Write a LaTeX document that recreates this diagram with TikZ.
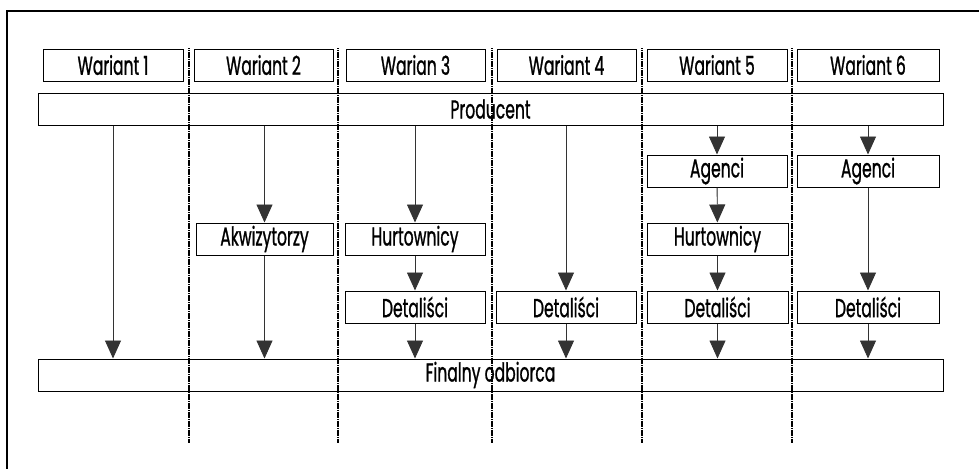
\documentclass[tikz,border=0pt]{standalone}
\usepackage{fontspec}
\setmainfont[FakeStretch=0.6, FakeBold=0.9]{Poppins}
\usetikzlibrary{arrows.meta}

\begin{document}
\begin{tikzpicture}[x=1pt, y=-1pt,
    box/.style={draw, line width=1pt, inner sep=0pt, minimum height=32pt,
        font=\fontsize{26}{28}\selectfont},
    arr/.style={-{Triangle[length=18pt,width=16pt]}, line width=0.9pt, draw=black!80, fill=black},
    sep/.style={line width=2.2pt, dash pattern=on 1.3pt off 0.5pt, black}]
    \useasboundingbox (0,0) rectangle (979,469);

    % Frame
    \draw[line width=1.2pt] (979,11) -- (7,11) -- (7,469);

    % Variants
    \node[box, minimum width=140pt] (w1) at (113,65) {Wariant 1};
    \node[box, minimum width=139pt] (w2) at (263.5,65) {Wariant 2};
    \node[box, minimum width=139pt] (w3) at (415.5,65) {Warian 3};
    \node[box, minimum width=139pt] (w4) at (566.5,65) {Wariant 4};
    \node[box, minimum width=140pt] (w5) at (717,65) {Wariant 5};
    \node[box, minimum width=142pt] (w6) at (868,65) {Wariant 6};

    % Producer and final customer
    \node[box, minimum width=905pt] (prod) at (490.5,109) {Producent};
    \node[box, minimum width=905pt] (fin) at (490.5,375) {Finalny odbiorca};

    % Intermediaries
    \node[box, minimum width=140pt] (ag5) at (717,171) {Agenci};
    \node[box, minimum width=142pt] (ag6) at (868,171) {Agenci};
    \node[box, minimum width=137pt] (akw) at (264.5,239) {Akwizytorzy};
    \node[box, minimum width=140pt] (hurt3) at (415,239) {Hurtownicy};
    \node[box, minimum width=141pt] (hurt5) at (717.5,239) {Hurtownicy};
    \node[box, minimum width=140pt] (det3) at (415,307) {Detaliści};
    \node[box, minimum width=140pt] (det4) at (566,307) {Detaliści};
    \node[box, minimum width=141pt] (det5) at (717.5,307) {Detaliści};
    \node[box, minimum width=142pt] (det6) at (868,307) {Detaliści};

    % Channels
    \draw[arr] (prod.south -| w1) -- (fin.north -| w1);
    \draw[arr] (prod.south -| akw) -- (akw.north);
    \draw[arr] (akw.south) -- (fin.north -| akw);
    \draw[arr] (prod.south -| hurt3) -- (hurt3.north);
    \draw[arr] (hurt3) -- (det3);
    \draw[arr] (det3.south) -- (fin.north -| det3);
    \draw[arr] (prod.south -| det4) -- (det4.north);
    \draw[arr] (det4.south) -- (fin.north -| det4);
    \draw[arr] (prod.south -| ag5) -- (ag5.north);
    \draw[arr] (ag5) -- (hurt5);
    \draw[arr] (hurt5) -- (det5);
    \draw[arr] (det5.south) -- (fin.north -| det5);
    \draw[arr] (prod.south -| ag6) -- (ag6.north);
    \draw[arr] (ag6.south -| det6) -- (det6.north);
    \draw[arr] (det6.south) -- (fin.north -| det6);

    % Column separators
    \foreach \x in {189,338,492,642,792}
        \draw[sep] (\x,48) -- (\x,443);
\end{tikzpicture}
\end{document}
